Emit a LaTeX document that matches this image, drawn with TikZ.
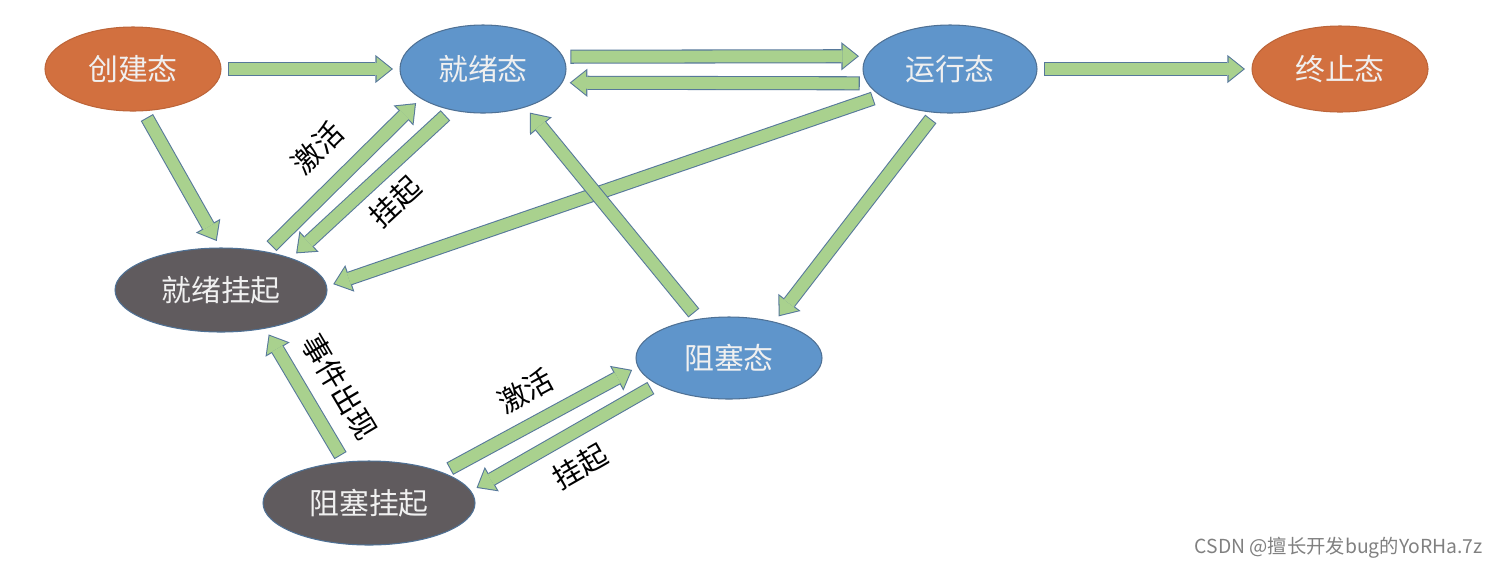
\documentclass[tikz,border=0pt]{standalone}
\usepackage{fontspec}
\usepackage{xcolor}
\usepackage{tikz}
\usetikzlibrary{shapes.geometric,arrows.meta}
\newfontfamily\cjk{Noto Sans CJK SC}

\definecolor{chengse}{HTML}{D2703F}
\definecolor{lanse}{HTML}{5F95CB}
\definecolor{huise}{HTML}{605B5E}
\definecolor{bianse}{HTML}{4F7195}
\definecolor{lvse}{HTML}{A9D18E}
\definecolor{lvbian}{HTML}{56789A}

\tikzset{
	zhuangtai/.style={ellipse, draw=bianse, line width=0.6pt, inner sep=0pt, outer sep=4pt,
		text=white!94!black, font=\cjk\fontsize{17}{20}\selectfont},
	flow/.style={draw=lvbian, line width=8pt, -{Triangle[length=10pt,width=16pt,line width=0pt 0 0]},
		postaction={draw=lvse, line width=6.8pt, -{Triangle[length=8.4pt,width=13.5pt,line width=0pt 0 0]},
			shorten >=0.96pt, shorten <=0.6pt}},
	biaoqian/.style={sloped, font=\cjk\fontsize{16.5}{19}\selectfont},
}

\begin{document}
\begin{tikzpicture}
				\useasboundingbox (0,0) rectangle (30.06,-11.36);
				
				\node[zhuangtai, fill=chengse, draw=chengse!90!black, minimum width=3.52cm, minimum height=1.68cm] (cj) at (2.66,-1.38) {创建态};%new
				\node[zhuangtai, fill=lanse, minimum width=3.32cm, minimum height=1.76cm] (jx) at (9.66,-1.38) {就绪态};%ready
				\node[zhuangtai, fill=lanse, minimum width=3.48cm, minimum height=1.76cm] (yx) at (19.0,-1.38) {运行态};%running
				\node[zhuangtai, fill=chengse, draw=chengse!90!black, minimum width=3.52cm, minimum height=1.72cm] (zz) at (26.8,-1.38) {终止态};%exit
				\node[zhuangtai, fill=huise, minimum width=4.24cm, minimum height=1.68cm] (jg) at (4.42,-5.8) {就绪挂起};%ready suspend
				\node[zhuangtai, fill=lanse, minimum width=3.72cm, minimum height=1.64cm] (zs) at (14.58,-7.16) {阻塞态};%blocked
				\node[zhuangtai, fill=huise, minimum width=4.24cm, minimum height=1.68cm] (zg) at (7.38,-10.06) {阻塞挂起};%blocked suspend
				
				\draw[flow] (cj.east) -- (jx.west);
				\draw[flow] (jx.8) -- (yx.172);
				\draw[flow] (yx.189) -- (jx.351);
				\draw[flow] (yx.east) -- (zz.west);
				\draw[flow] (cj.286) -- (jg.95);
				\draw[flow] (jg.41) -- node[biaoqian, above=6.5pt] {激活} (jx.207);
				\draw[flow] (jx.231) -- node[biaoqian, below=1.5pt, pos=0.47] {挂起} (jg.26);
				\draw[flow] (yx.201) -- (jg.3);
				\draw[flow] (yx.249) -- (zs.40);
				\draw[flow] (zs.128) -- (jx.317);
				\draw[flow] (zg.121) -- node[biaoqian, above=4.5pt, pos=0.42] {事件出现} (jg.317);
				\draw[flow] (zg.23) -- node[biaoqian, above=3.5pt] {激活} (zs.187);
				\draw[flow] (zs.201) -- node[biaoqian, below=3.5pt] {挂起} (zg.8);
				
				\node[anchor=east, text=black!50, font=\cjk\fontsize{11}{13}\selectfont] (sy) at (29.78,-10.96) {CSDN @擅长开发bug的YoRHa.7z};
			\end{tikzpicture}
\end{document}
